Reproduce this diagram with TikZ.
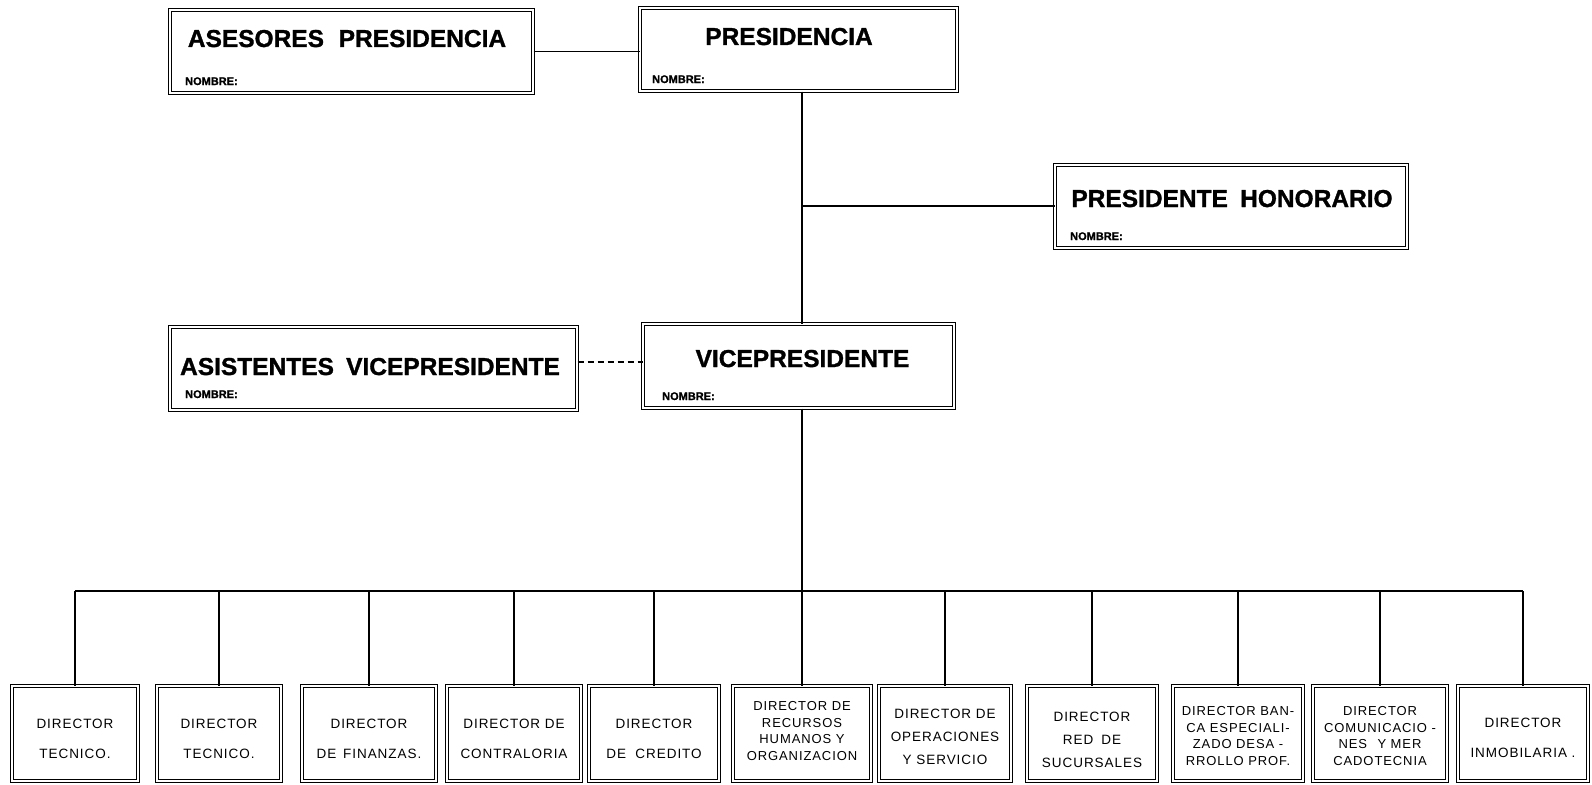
\documentclass[tikz,border=0pt]{standalone}
\usepackage{fontspec}
\setmainfont{Liberation Sans}
\newfontfamily\dirfont[LetterSpace=7]{Liberation Sans}
\newfontfamily\heavy[FakeBold=1.2]{Liberation Sans Bold}
\usetikzlibrary{calc}
\begin{document}
\begin{tikzpicture}[x=1pt,y=-1pt,
  box/.style={draw, line width=1pt, double, double distance=2.2pt, inner sep=0pt, rectangle},
  ttl/.style={font=\heavy\fontsize{24.5}{26}\selectfont, inner sep=0pt, anchor=base},
  nom/.style={font=\heavy\fontsize{11}{12}\selectfont, inner sep=0pt, anchor=base west},
  dirtwo/.style={font=\dirfont\fontsize{13.5}{30}\selectfont, align=center, inner sep=0pt},
  dirthree/.style={font=\dirfont\fontsize{13.5}{23}\selectfont, align=center, inner sep=0pt},
  dirfour/.style={font=\dirfont\fontsize{13}{16.5}\selectfont, align=center, inner sep=0pt},
  conn/.style={line width=1.2pt}]
\useasboundingbox (0,0) rectangle (1592,784);
\fill[white] (0,0) rectangle (1592,784);

% top level boxes
\node[box, minimum width=363pt, minimum height=83pt] (ap) at (351.5,51.5) {};
\node[ttl] (apt) at (347,47) {ASESORES\hspace{0.6em}PRESIDENCIA};
\node[nom] (apn) at (185,85) {NOMBRE:};

\node[box, minimum width=317pt, minimum height=83pt] (pres) at (798.5,49.5) {};
\node[ttl] (prest) at (789,45) {PRESIDENCIA};
\node[nom] (presn) at (652,83) {NOMBRE:};

\node[box, minimum width=352pt, minimum height=83pt] (hon) at (1231,206.5) {};
\node[ttl] (hont) at (1232,207) {PRESIDENTE\hspace{0.5em}HONORARIO};
\node[nom] (honn) at (1070,240) {NOMBRE:};

\node[box, minimum width=407pt, minimum height=83pt] (asv) at (373.5,368.5) {};
\node[ttl] (asvt) at (370,375) {ASISTENTES\hspace{0.5em}VICEPRESIDENTE};
\node[nom] (asvn) at (185,398) {NOMBRE:};

\node[box, minimum width=311pt, minimum height=84pt] (vp) at (798.5,366) {};
\node[ttl] (vpt) at (802.5,367) {VICEPRESIDENTE};
\node[nom] (vpn) at (662,400) {NOMBRE:};

% connectors top
\draw[conn] (ap.east) -- (pres.west |- ap.east);
\coordinate (dsh) at (577,362);
\draw[conn, dash pattern=on 6pt off 4pt] (asv.east |- dsh) -- (vp.west |- dsh);
\coordinate (t1) at (802,206);
\coordinate (bus) at (802,591);
\draw[conn] (pres.south -| t1) -- (vp.north -| t1);
\draw[conn] (t1) -- (hon.west |- t1);
\draw[conn] (vp.south -| bus) -- (bus);

% bottom boxes
\foreach \n/\cx/\w in {1/75/126, 2/219/124, 3/369/134, 4/514/134, 5/654/130, 6/802/138, 7/945/132, 8/1092/130, 9/1238/130, 10/1380/134, 11/1523/130}{
  \node[box, minimum width=\w pt, minimum height=95pt] (d\n) at (\cx,733.5) {};
}
\node[dirtwo] (t1b) at (75,739) {DIRECTOR\\TECNICO.};
\node[dirtwo] (t2b) at (219,739) {DIRECTOR\\TECNICO.};
\node[dirtwo] (t3b) at (369,739) {DIRECTOR\\DE\hspace{0.5em}FINANZAS.};
\node[dirtwo] (t4b) at (514,739) {DIRECTOR DE\\CONTRALORIA};
\node[dirtwo] (t5b) at (654,739) {DIRECTOR\\DE\hspace{0.7em}CREDITO};
\node[dirfour] (t6b) at (802,731) {DIRECTOR DE\\RECURSOS\\HUMANOS Y\\ORGANIZACION};
\node[dirthree] (t7b) at (945,737) {DIRECTOR DE\\OPERACIONES\\Y SERVICIO};
\node[dirthree] (t8b) at (1092,740) {DIRECTOR\\RED\hspace{0.6em}DE\\SUCURSALES};
\node[dirfour] (t9b) at (1238,736) {DIRECTOR BAN-\\CA ESPECIALI-\\ZADO DESA -\\RROLLO PROF.};
\node[dirfour] (t10b) at (1380,736) {DIRECTOR\\COMUNICACIO -\\NES\hspace{0.8em}Y MER\\CADOTECNIA};
\node[dirtwo] (t11b) at (1523,738) {DIRECTOR\\INMOBILARIA .};

% bus
\draw[conn] (d1.north |- bus) -- (d11.north |- bus);
\foreach \n in {1,...,11}{
  \draw[conn] (d\n.north) -- (d\n.north |- bus);
}
\end{tikzpicture}
\end{document}
